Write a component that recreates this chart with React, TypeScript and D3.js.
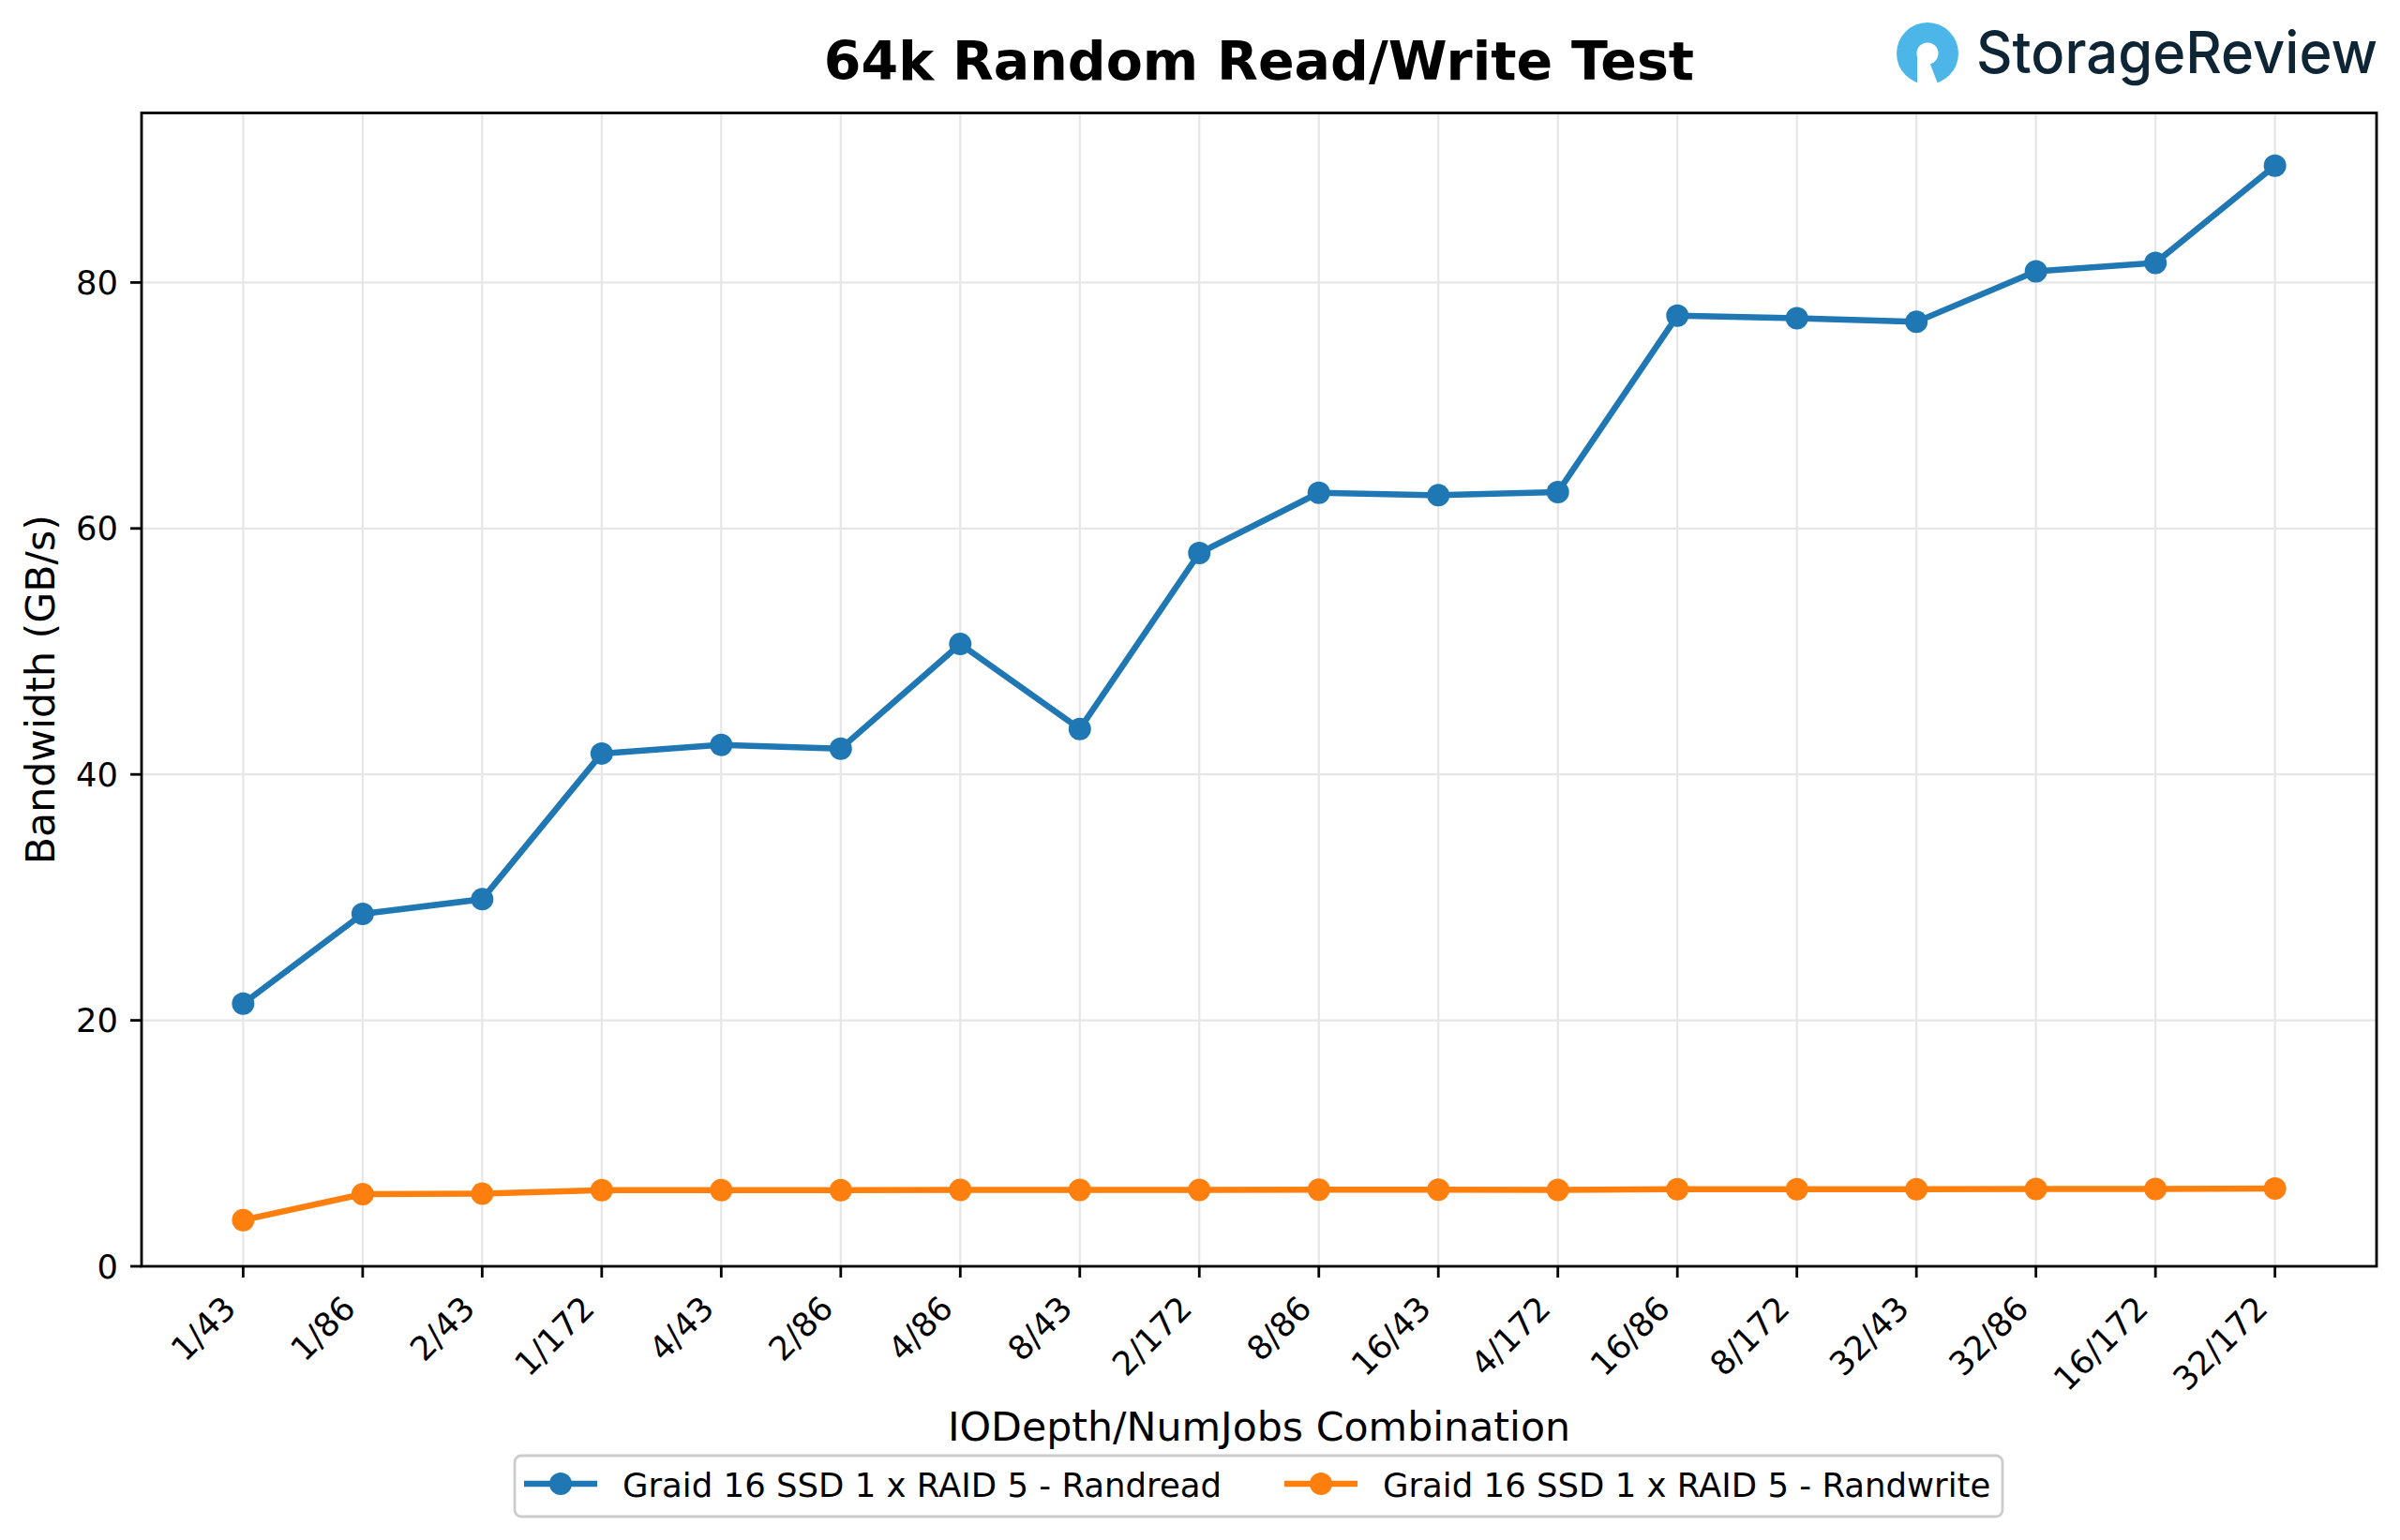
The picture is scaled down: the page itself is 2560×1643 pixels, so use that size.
import React from "react";
import * as d3 from "d3";

const categories = ["1/43", "1/86", "2/43", "1/172", "4/43", "2/86", "4/86", "8/43", "2/172", "8/86", "16/43", "4/172", "16/86", "8/172", "32/43", "32/86", "16/172", "32/172"];
const randread = [21.36, 28.66, 29.85, 41.7, 42.4, 42.1, 50.6, 43.7, 58.0, 62.9, 62.7, 62.96, 77.3, 77.1, 76.8, 80.9, 81.6, 89.5];
const randwrite = [3.76, 5.87, 5.9, 6.2, 6.2, 6.2, 6.22, 6.22, 6.22, 6.23, 6.23, 6.22, 6.27, 6.27, 6.27, 6.28, 6.28, 6.32];
const yTicks = [0, 20, 40, 60, 80];
const seriesNames = ["Graid 16 SSD 1 x RAID 5 - Randread", "Graid 16 SSD 1 x RAID 5 - Randwrite"];
const seriesColors = ["#1f77b4", "#ff7f0e"];

const W = 2560, H = 1643;
const L = 151, R = 2535, T = 120.5, B = 1351;
const FONT = "DejaVu Sans, sans-serif";
const TICK_FS = 35.3;

export default function App() {
  const x = d3.scalePoint<string>().domain(categories).range([L, R]).padding(0.85);
  const ymax = d3.max(randread)! + 0.05 * (d3.max(randread)! - d3.min(randwrite)!);
  const y = d3.scaleLinear().domain([0, ymax]).range([B, T]);
  const line = d3.line<number>().x((_, i) => x(categories[i])!).y((d) => y(d));
  const series = [randread, randwrite];

  const legendHandles = [
    { x0: 559, x1: 637, tx: 664 },
    { x0: 1370, x1: 1448, tx: 1475 },
  ];

  return (
    <div style={{ position: "fixed", left: 0, top: 0 }}>
      <svg width={W} height={H} viewBox={`0 0 ${W} ${H}`} style={{ display: "block", background: "#fff" }}>
        <rect x={0} y={0} width={W} height={H} fill="#fff" />
        {categories.map((c) => (
          <line key={"gx" + c} x1={x(c)} x2={x(c)} y1={T} y2={B} stroke="#e6e6e6" strokeWidth={2.2} />
        ))}
        {yTicks.map((t) => (
          <line key={"gy" + t} x1={L} x2={R} y1={y(t)} y2={y(t)} stroke="#e6e6e6" strokeWidth={2.2} />
        ))}
        {series.map((s, si) => (
          <g key={"s" + si}>
            <path d={line(s)!} fill="none" stroke={seriesColors[si]} strokeWidth={6.5} strokeLinejoin="round" strokeLinecap="butt" />
            {s.map((v, i) => (
              <circle key={i} cx={x(categories[i])} cy={y(v)} r={12} fill={seriesColors[si]} />
            ))}
          </g>
        ))}
        <rect x={L} y={T} width={R - L} height={B - T} fill="none" stroke="#000" strokeWidth={2.8} />
        {yTicks.map((t) => (
          <g key={"yt" + t}>
            <line x1={L - 12} x2={L} y1={y(t)} y2={y(t)} stroke="#000" strokeWidth={2.8} />
            <text x={126} y={y(t)} textAnchor="end" dominantBaseline="central" fontFamily={FONT} fontSize={TICK_FS} fill="#000">
              {t}
            </text>
          </g>
        ))}
        {categories.map((c) => (
          <g key={"xt" + c}>
            <line x1={x(c)} x2={x(c)} y1={B} y2={B + 12} stroke="#000" strokeWidth={2.8} />
            <text
              transform={`translate(${x(c)! - 5.8},${1398}) rotate(-45)`}
              textAnchor="end"
              fontFamily={FONT}
              fontSize={TICK_FS}
              fill="#000"
            >
              {c}
            </text>
          </g>
        ))}
        <text x={(L + R) / 2} y={1537} textAnchor="middle" fontFamily={FONT} fontSize={42.7} fill="#000">
          IODepth/NumJobs Combination
        </text>
        <text transform={`translate(58,${(T + B) / 2}) rotate(-90)`} textAnchor="middle" fontFamily={FONT} fontSize={42.7} fill="#000">
          Bandwidth (GB/s)
        </text>
        <text x={(L + R) / 2} y={85} textAnchor="middle" fontFamily={FONT} fontSize={57} fontWeight="bold" fill="#000">
          64k Random Read/Write Test
        </text>
        <rect x={549} y={1553} width={2136 - 549} height={1618 - 1553} rx={7} ry={7} fill="#fff" fillOpacity={0.8} stroke="#cccccc" strokeWidth={2.8} />
        {legendHandles.map((h, i) => (
          <g key={"lg" + i}>
            <line x1={h.x0} x2={h.x1} y1={1583} y2={1583} stroke={seriesColors[i]} strokeWidth={6.5} />
            <circle cx={(h.x0 + h.x1) / 2} cy={1583} r={12} fill={seriesColors[i]} />
            <text x={h.tx} y={1597} fontFamily={FONT} fontSize={35.5} fill="#000">
              {seriesNames[i]}
            </text>
          </g>
        ))}
        <g>
          <circle cx={2056} cy={57} r={33} fill="#4db6e8" />
          <circle cx={2056} cy={57} r={11.5} fill="#fff" />
          <path d="M 2045 58 L 2045 92 L 2068 92 L 2058 66 Z" fill="#fff" />
          <text x={2108} y={78} fontFamily="Inter, Lato, sans-serif" fontSize={62} fontWeight={500} fill="#0e2536" textLength={428} lengthAdjust="spacingAndGlyphs">
            StorageReview
          </text>
        </g>
      </svg>
    </div>
  );
}
